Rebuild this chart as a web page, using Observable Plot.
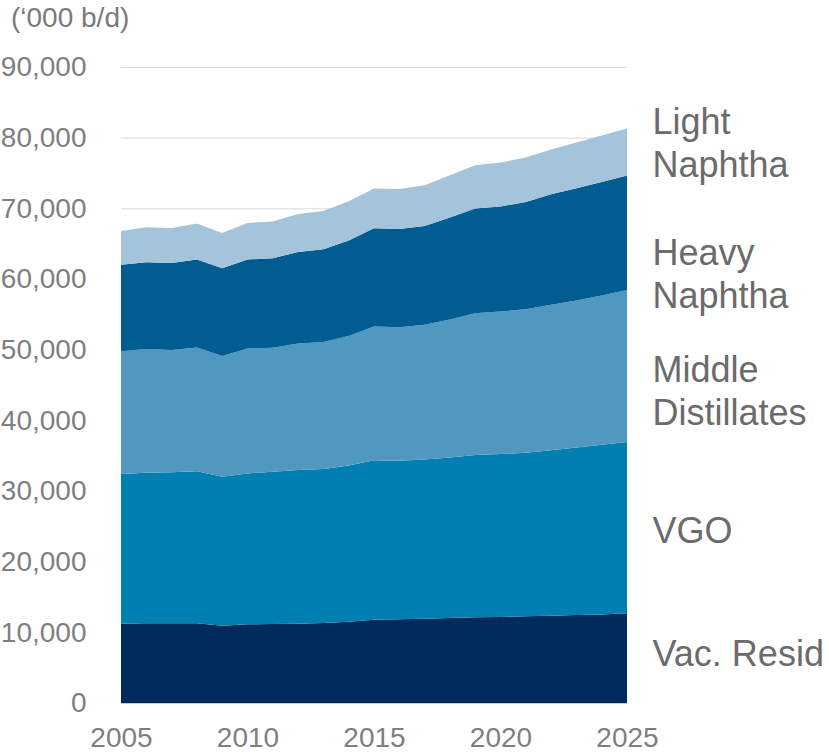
<!DOCTYPE html>
<html>
<head>
<meta charset="utf-8">
<script src="https://cdn.jsdelivr.net/npm/d3@7"></script>
<script src="https://cdn.jsdelivr.net/npm/@observablehq/plot@0.6"></script>
<style>
  html, body { margin: 0; padding: 0; background: #ffffff; }
  #wrap { position: relative; width: 829px; height: 753px; overflow: hidden; }
  #title { position: absolute; left: 11px; top: 2px; font: 28px "Liberation Sans", Arial, sans-serif; color: #7a7a7a; white-space: nowrap; line-height: 32px; }
</style>
</head>
<body>
<div id="wrap">
  <div id="chart"></div>
  <div id="title">(‘000 b/d)</div>
</div>
<script>
const years = [2005, 2006, 2007, 2008, 2009, 2010, 2011, 2012, 2013, 2014, 2015, 2016, 2017, 2018, 2019, 2020, 2021, 2022, 2023, 2024, 2025];
const seriesNames = ["Vac. Resid", "VGO", "Middle Distillates", "Heavy Naphtha", "Light Naphtha"];
const vacResid = [11220, 11270, 11270, 11270, 10940, 11130, 11180, 11220, 11320, 11500, 11790, 11840, 11930, 12020, 12120, 12160, 12260, 12350, 12450, 12540, 12690];
const vgo = [21170, 21300, 21400, 21540, 21070, 21360, 21540, 21740, 21780, 22120, 22560, 22430, 22540, 22730, 22960, 23060, 23140, 23430, 23720, 23990, 24230];
const middleDistillates = [17400, 17540, 17300, 17500, 17110, 17680, 17540, 17920, 18000, 18330, 18930, 18910, 19040, 19520, 20080, 20180, 20330, 20560, 20790, 21140, 21540];
const heavyNaphtha = [12210, 12270, 12310, 12450, 12410, 12590, 12680, 12950, 13110, 13490, 13910, 13910, 14000, 14430, 14810, 14850, 15180, 15660, 15880, 16060, 16180];
const lightNaphtha = [4800, 4950, 4950, 5090, 4990, 5180, 5190, 5380, 5420, 5560, 5630, 5650, 5760, 5980, 6130, 6230, 6270, 6320, 6470, 6570, 6650];
const colors = ["#002b5c", "#007fb0", "#5098c0", "#005c91", "#a3c4da"];
const yTicks = [0, 10000, 20000, 30000, 40000, 50000, 60000, 70000, 80000, 90000];
const xTicks = [2005, 2010, 2015, 2020, 2025];
const labelTexts = ["Light\nNaphtha", "Heavy\nNaphtha", "Middle\nDistillates", "VGO", "Vac. Resid"];
const labelValues = [79500, 61000, 44400, 24600, 7200];

const seriesValues = [vacResid, vgo, middleDistillates, heavyNaphtha, lightNaphtha];
const rows = [];
seriesNames.forEach((name, i) => {
  years.forEach((yr, j) => rows.push({series: name, year: yr, value: seriesValues[i][j]}));
});
const labels = labelTexts.map((t, i) => ({text: t, y: labelValues[i], x: 2025}));

const chart = Plot.plot({
  width: 829,
  height: 753,
  marginTop: 67,
  marginBottom: 50,
  marginLeft: 121,
  marginRight: 202,
  style: {fontFamily: '"Liberation Sans", Arial, sans-serif', fontSize: "28px", color: "#7f7f7f", background: "#ffffff", overflow: "visible"},
  x: {domain: [2005, 2025], ticks: xTicks, tickFormat: d => String(d), tickSize: 0, tickPadding: 24, label: null},
  y: {domain: [0, 90000], ticks: yTicks, tickFormat: d3.format(","), tickSize: 0, tickPadding: 35, label: null},
  color: {domain: seriesNames, range: colors},
  marks: [
    Plot.ruleY(yTicks.filter(d => d > 0), {stroke: "#d9d9d9", strokeWidth: 1}),
    Plot.areaY(rows, {x: "year", y: "value", fill: "series", order: seriesNames}),
    Plot.ruleY([0], {stroke: "#c5ccd6", strokeWidth: 1}),
    Plot.text(labels, {x: "x", y: "y", text: "text", dx: 25, textAnchor: "start", lineAnchor: "middle", fontSize: 36, lineHeight: 1.2, fill: "#6b6b6b"})
  ]
});
document.getElementById("chart").appendChild(chart);
</script>
</body>
</html>
